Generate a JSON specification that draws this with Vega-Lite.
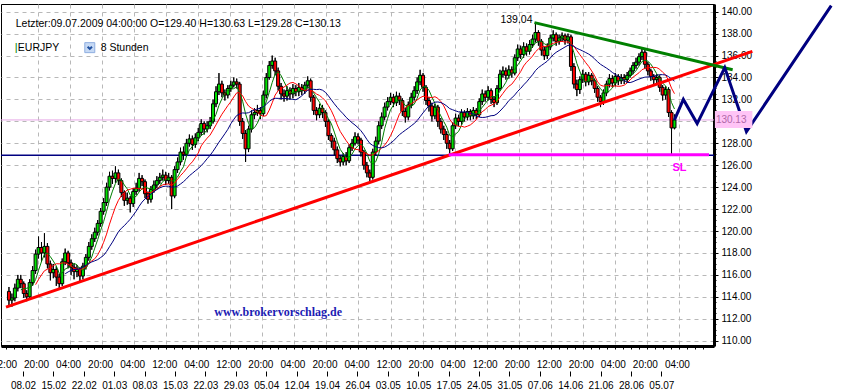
{
 "$schema": "https://vega.github.io/schema/vega-lite/v6.json",
 "width": 713,
 "height": 342,
 "autosize": "none",
 "padding": {"left": 1, "top": 4, "right": 135, "bottom": 43},
 "background": "white",
 "config": {"view": {"stroke": "#000", "strokeWidth": 1}, "font": "Liberation Sans"},
 "datasets": {
  "candles": [
   {"i":0,"o":114.5,"h":114.9,"l":113.2,"c":113.7},{"i":1,"o":113.7,"h":114.3,"l":113.1,"c":113.9},{"i":2,"o":113.9,"h":115.2,"l":113.6,"c":114.8},{"i":3,"o":114.8,"h":116.0,"l":114.5,"c":115.6},{"i":4,"o":115.6,"h":116.0,"l":114.8,"c":115.2},{"i":5,"o":115.2,"h":115.4,"l":113.9,"c":114.3},{"i":6,"o":114.3,"h":114.6,"l":113.6,"c":114.0},{"i":7,"o":114.0,"h":115.6,"l":113.8,"c":115.3},{"i":8,"o":115.3,"h":116.8,"l":115.0,"c":116.4},{"i":9,"o":116.4,"h":118.3,"l":116.1,"c":117.9},
   {"i":10,"o":117.9,"h":119.5,"l":117.5,"c":118.5},{"i":11,"o":118.5,"h":119.0,"l":117.2,"c":118.0},{"i":12,"o":118.0,"h":119.8,"l":117.6,"c":118.6},{"i":13,"o":118.6,"h":118.9,"l":116.6,"c":117.0},{"i":14,"o":117.0,"h":117.3,"l":115.5,"c":116.2},{"i":15,"o":116.2,"h":117.0,"l":115.7,"c":116.5},{"i":16,"o":116.5,"h":116.8,"l":115.0,"c":115.8},{"i":17,"o":115.8,"h":116.1,"l":114.7,"c":115.2},{"i":18,"o":115.2,"h":117.5,"l":115.0,"c":117.2},{"i":19,"o":117.2,"h":118.4,"l":116.9,"c":118.0},
   {"i":20,"o":118.0,"h":118.2,"l":116.6,"c":117.1},{"i":21,"o":117.1,"h":117.4,"l":116.0,"c":116.7},{"i":22,"o":116.7,"h":117.0,"l":115.6,"c":116.3},{"i":23,"o":116.3,"h":116.9,"l":115.8,"c":116.5},{"i":24,"o":116.5,"h":116.7,"l":115.3,"c":115.9},{"i":25,"o":115.9,"h":117.1,"l":115.6,"c":116.8},{"i":26,"o":116.8,"h":117.9,"l":116.5,"c":117.6},{"i":27,"o":117.6,"h":119.0,"l":117.3,"c":118.6},{"i":28,"o":118.6,"h":119.7,"l":118.3,"c":119.3},{"i":29,"o":119.3,"h":120.3,"l":119.0,"c":119.9},
   {"i":30,"o":119.9,"h":121.0,"l":119.6,"c":120.7},{"i":31,"o":120.7,"h":122.1,"l":120.4,"c":121.8},{"i":32,"o":121.8,"h":123.0,"l":121.5,"c":122.6},{"i":33,"o":122.6,"h":124.4,"l":122.3,"c":124.0},{"i":34,"o":124.0,"h":125.4,"l":123.7,"c":125.0},{"i":35,"o":125.0,"h":125.5,"l":124.3,"c":124.8},{"i":36,"o":124.8,"h":125.9,"l":124.4,"c":125.3},{"i":37,"o":125.3,"h":125.6,"l":124.2,"c":124.6},{"i":38,"o":124.6,"h":124.8,"l":123.1,"c":123.5},{"i":39,"o":123.5,"h":123.7,"l":122.3,"c":122.8},
   {"i":40,"o":122.8,"h":123.5,"l":122.4,"c":123.0},{"i":41,"o":123.0,"h":123.2,"l":121.7,"c":122.5},{"i":42,"o":122.5,"h":123.9,"l":122.2,"c":123.6},{"i":43,"o":123.6,"h":124.4,"l":123.3,"c":123.9},{"i":44,"o":123.9,"h":125.3,"l":123.6,"c":124.8},{"i":45,"o":124.8,"h":125.1,"l":124.1,"c":124.5},{"i":46,"o":124.5,"h":124.7,"l":123.0,"c":123.4},{"i":47,"o":123.4,"h":123.6,"l":122.5,"c":122.9},{"i":48,"o":122.9,"h":124.1,"l":122.6,"c":123.8},{"i":49,"o":123.8,"h":124.6,"l":123.5,"c":124.2},
   {"i":50,"o":124.2,"h":125.0,"l":123.9,"c":124.6},{"i":51,"o":124.6,"h":125.3,"l":124.3,"c":124.9},{"i":52,"o":124.9,"h":125.6,"l":124.6,"c":125.1},{"i":53,"o":125.1,"h":125.4,"l":124.2,"c":124.6},{"i":54,"o":124.6,"h":125.3,"l":124.3,"c":124.9},{"i":55,"o":124.9,"h":125.1,"l":122.0,"c":123.2},{"i":56,"o":123.2,"h":125.9,"l":123.0,"c":125.6},{"i":57,"o":125.6,"h":126.7,"l":125.3,"c":126.3},{"i":58,"o":126.3,"h":127.6,"l":126.0,"c":127.2},{"i":59,"o":127.2,"h":127.7,"l":126.5,"c":127.0},
   {"i":60,"o":127.0,"h":128.4,"l":126.8,"c":128.0},{"i":61,"o":128.0,"h":128.8,"l":127.7,"c":128.4},{"i":62,"o":128.4,"h":128.7,"l":127.4,"c":127.9},{"i":63,"o":127.9,"h":128.9,"l":127.6,"c":128.5},{"i":64,"o":128.5,"h":129.4,"l":128.2,"c":129.0},{"i":65,"o":129.0,"h":130.2,"l":128.7,"c":129.8},{"i":66,"o":129.8,"h":130.0,"l":128.8,"c":129.3},{"i":67,"o":129.3,"h":130.0,"l":129.0,"c":129.6},{"i":68,"o":129.6,"h":130.4,"l":129.3,"c":130.0},{"i":69,"o":130.0,"h":132.0,"l":129.8,"c":131.6},
   {"i":70,"o":131.6,"h":133.2,"l":131.3,"c":132.7},{"i":71,"o":132.7,"h":134.4,"l":132.4,"c":133.4},{"i":72,"o":133.4,"h":133.7,"l":132.2,"c":132.6},{"i":73,"o":132.6,"h":132.9,"l":131.9,"c":132.4},{"i":74,"o":132.4,"h":133.3,"l":132.1,"c":133.0},{"i":75,"o":133.0,"h":133.7,"l":132.7,"c":133.3},{"i":76,"o":133.3,"h":134.0,"l":133.1,"c":133.6},{"i":77,"o":133.6,"h":133.9,"l":133.0,"c":133.4},{"i":78,"o":133.4,"h":133.6,"l":129.6,"c":130.0},{"i":79,"o":130.0,"h":130.3,"l":128.4,"c":128.9},
   {"i":80,"o":128.9,"h":129.2,"l":126.3,"c":127.5},{"i":81,"o":127.5,"h":129.6,"l":127.2,"c":129.3},{"i":82,"o":129.3,"h":131.0,"l":129.0,"c":130.6},{"i":83,"o":130.6,"h":131.2,"l":130.2,"c":130.8},{"i":84,"o":130.8,"h":131.5,"l":130.5,"c":131.0},{"i":85,"o":131.0,"h":131.3,"l":130.2,"c":130.7},{"i":86,"o":130.7,"h":132.8,"l":130.5,"c":132.4},{"i":87,"o":132.4,"h":134.4,"l":132.1,"c":134.0},{"i":88,"o":134.0,"h":135.5,"l":133.8,"c":135.1},{"i":89,"o":135.1,"h":136.0,"l":134.8,"c":135.5},
   {"i":90,"o":135.5,"h":135.8,"l":134.2,"c":134.6},{"i":91,"o":134.6,"h":134.9,"l":132.8,"c":133.2},{"i":92,"o":133.2,"h":133.5,"l":132.0,"c":132.5},{"i":93,"o":132.5,"h":132.9,"l":131.8,"c":132.3},{"i":94,"o":132.3,"h":133.2,"l":131.9,"c":132.8},{"i":95,"o":132.8,"h":133.1,"l":132.0,"c":132.5},{"i":96,"o":132.5,"h":133.4,"l":132.1,"c":133.0},{"i":97,"o":133.0,"h":133.3,"l":132.3,"c":132.7},{"i":98,"o":132.7,"h":133.5,"l":132.3,"c":133.1},{"i":99,"o":133.1,"h":133.4,"l":132.4,"c":132.8},
   {"i":100,"o":132.8,"h":133.6,"l":132.5,"c":133.3},{"i":101,"o":133.3,"h":134.1,"l":133.0,"c":133.7},{"i":102,"o":133.7,"h":133.9,"l":131.8,"c":132.2},{"i":103,"o":132.2,"h":132.4,"l":130.6,"c":131.0},{"i":104,"o":131.0,"h":131.3,"l":130.1,"c":130.6},{"i":105,"o":130.6,"h":131.6,"l":130.3,"c":131.2},{"i":106,"o":131.2,"h":131.5,"l":130.3,"c":130.8},{"i":107,"o":130.8,"h":131.0,"l":129.5,"c":130.0},{"i":108,"o":130.0,"h":130.2,"l":128.3,"c":128.7},{"i":109,"o":128.7,"h":128.9,"l":127.6,"c":128.2},
   {"i":110,"o":128.2,"h":128.5,"l":126.9,"c":127.4},{"i":111,"o":127.4,"h":127.7,"l":126.2,"c":126.6},{"i":112,"o":126.6,"h":126.9,"l":125.9,"c":126.3},{"i":113,"o":126.3,"h":127.1,"l":126.0,"c":126.8},{"i":114,"o":126.8,"h":127.2,"l":126.0,"c":126.4},{"i":115,"o":126.4,"h":127.9,"l":126.2,"c":127.6},{"i":116,"o":127.6,"h":128.4,"l":127.3,"c":128.0},{"i":117,"o":128.0,"h":129.0,"l":127.8,"c":128.6},{"i":118,"o":128.6,"h":128.9,"l":127.9,"c":128.3},{"i":119,"o":128.3,"h":128.5,"l":126.8,"c":127.2},
   {"i":120,"o":127.2,"h":127.4,"l":125.6,"c":126.0},{"i":121,"o":126.0,"h":126.3,"l":124.9,"c":125.3},{"i":122,"o":125.3,"h":125.6,"l":124.4,"c":124.9},{"i":123,"o":124.9,"h":127.5,"l":124.7,"c":127.2},{"i":124,"o":127.2,"h":128.6,"l":126.9,"c":128.2},{"i":125,"o":128.2,"h":130.0,"l":127.9,"c":129.6},{"i":126,"o":129.6,"h":130.8,"l":129.3,"c":130.4},{"i":127,"o":130.4,"h":131.7,"l":130.1,"c":131.3},{"i":128,"o":131.3,"h":132.2,"l":131.0,"c":131.8},{"i":129,"o":131.8,"h":132.6,"l":131.5,"c":132.2},
   {"i":130,"o":132.2,"h":132.5,"l":131.3,"c":131.7},{"i":131,"o":131.7,"h":132.7,"l":131.4,"c":132.3},{"i":132,"o":132.3,"h":132.6,"l":131.5,"c":131.9},{"i":133,"o":131.9,"h":132.1,"l":130.5,"c":130.9},{"i":134,"o":130.9,"h":131.2,"l":129.9,"c":130.4},{"i":135,"o":130.4,"h":131.8,"l":130.1,"c":131.5},{"i":136,"o":131.5,"h":132.6,"l":131.2,"c":132.2},{"i":137,"o":132.2,"h":133.2,"l":131.9,"c":132.8},{"i":138,"o":132.8,"h":134.0,"l":132.5,"c":133.6},{"i":139,"o":133.6,"h":134.7,"l":133.3,"c":134.2},
   {"i":140,"o":134.2,"h":134.4,"l":132.7,"c":133.1},{"i":141,"o":133.1,"h":133.3,"l":131.5,"c":131.9},{"i":142,"o":131.9,"h":132.2,"l":130.9,"c":131.4},{"i":143,"o":131.4,"h":131.7,"l":130.0,"c":130.5},{"i":144,"o":130.5,"h":131.6,"l":130.2,"c":131.3},{"i":145,"o":131.3,"h":131.5,"l":129.5,"c":130.0},{"i":146,"o":130.0,"h":130.3,"l":128.9,"c":129.3},{"i":147,"o":129.3,"h":129.6,"l":128.3,"c":128.8},{"i":148,"o":128.8,"h":129.1,"l":127.5,"c":128.0},{"i":149,"o":128.0,"h":128.3,"l":126.95,"c":127.5},
   {"i":150,"o":127.5,"h":129.9,"l":127.3,"c":129.6},{"i":151,"o":129.6,"h":130.7,"l":129.3,"c":130.3},{"i":152,"o":130.3,"h":130.6,"l":129.6,"c":130.0},{"i":153,"o":130.0,"h":131.1,"l":129.7,"c":130.8},{"i":154,"o":130.8,"h":131.0,"l":130.0,"c":130.4},{"i":155,"o":130.4,"h":131.2,"l":130.1,"c":130.9},{"i":156,"o":130.9,"h":131.1,"l":130.1,"c":130.5},{"i":157,"o":130.5,"h":131.3,"l":130.2,"c":131.0},{"i":158,"o":131.0,"h":131.2,"l":130.2,"c":130.6},{"i":159,"o":130.6,"h":132.1,"l":130.4,"c":131.8},
   {"i":160,"o":131.8,"h":132.9,"l":131.5,"c":132.5},{"i":161,"o":132.5,"h":132.8,"l":131.8,"c":132.2},{"i":162,"o":132.2,"h":133.2,"l":131.9,"c":132.8},{"i":163,"o":132.8,"h":133.0,"l":131.6,"c":132.0},{"i":164,"o":132.0,"h":132.3,"l":131.3,"c":131.7},{"i":165,"o":131.7,"h":133.3,"l":131.5,"c":133.0},{"i":166,"o":133.0,"h":134.7,"l":132.8,"c":134.3},{"i":167,"o":134.3,"h":135.0,"l":134.0,"c":134.6},{"i":168,"o":134.6,"h":134.9,"l":133.8,"c":134.2},{"i":169,"o":134.2,"h":135.1,"l":133.9,"c":134.7},
   {"i":170,"o":134.7,"h":135.0,"l":134.0,"c":134.4},{"i":171,"o":134.4,"h":136.1,"l":134.2,"c":135.8},{"i":172,"o":135.8,"h":137.0,"l":135.5,"c":136.6},{"i":173,"o":136.6,"h":136.9,"l":135.7,"c":136.1},{"i":174,"o":136.1,"h":137.2,"l":135.8,"c":136.8},{"i":175,"o":136.8,"h":137.1,"l":136.0,"c":136.4},{"i":176,"o":136.4,"h":137.4,"l":136.1,"c":137.0},{"i":177,"o":137.0,"h":137.9,"l":136.7,"c":137.5},{"i":178,"o":137.5,"h":139.04,"l":137.2,"c":138.1},{"i":179,"o":138.1,"h":138.3,"l":136.9,"c":137.3},
   {"i":180,"o":137.3,"h":137.5,"l":136.0,"c":136.5},{"i":181,"o":136.5,"h":136.8,"l":135.6,"c":136.0},{"i":182,"o":136.0,"h":137.1,"l":135.7,"c":136.8},{"i":183,"o":136.8,"h":137.9,"l":136.5,"c":137.6},{"i":184,"o":137.6,"h":138.3,"l":137.3,"c":137.9},{"i":185,"o":137.9,"h":138.1,"l":136.9,"c":137.3},{"i":186,"o":137.3,"h":137.9,"l":137.0,"c":137.6},{"i":187,"o":137.6,"h":138.1,"l":137.3,"c":137.8},{"i":188,"o":137.8,"h":138.0,"l":137.0,"c":137.4},{"i":189,"o":137.4,"h":138.0,"l":137.1,"c":137.7},
   {"i":190,"o":137.7,"h":137.9,"l":134.6,"c":135.0},{"i":191,"o":135.0,"h":135.3,"l":133.0,"c":133.4},{"i":192,"o":133.4,"h":133.8,"l":132.3,"c":132.9},{"i":193,"o":132.9,"h":134.1,"l":132.5,"c":133.8},{"i":194,"o":133.8,"h":134.7,"l":133.5,"c":134.3},{"i":195,"o":134.3,"h":134.5,"l":133.2,"c":133.6},{"i":196,"o":133.6,"h":134.5,"l":133.3,"c":134.2},{"i":197,"o":134.2,"h":134.4,"l":133.3,"c":133.7},{"i":198,"o":133.7,"h":133.9,"l":132.6,"c":133.0},{"i":199,"o":133.0,"h":133.2,"l":131.8,"c":132.2},
   {"i":200,"o":132.2,"h":132.4,"l":131.3,"c":131.8},{"i":201,"o":131.8,"h":132.9,"l":131.5,"c":132.6},{"i":202,"o":132.6,"h":133.7,"l":132.3,"c":133.4},{"i":203,"o":133.4,"h":134.3,"l":133.1,"c":133.9},{"i":204,"o":133.9,"h":134.2,"l":133.1,"c":133.5},{"i":205,"o":133.5,"h":134.4,"l":133.2,"c":134.1},{"i":206,"o":134.1,"h":134.3,"l":133.3,"c":133.7},{"i":207,"o":133.7,"h":134.3,"l":133.4,"c":134.0},{"i":208,"o":134.0,"h":134.3,"l":133.4,"c":133.8},{"i":209,"o":133.8,"h":134.5,"l":133.5,"c":134.2},
   {"i":210,"o":134.2,"h":134.9,"l":134.0,"c":134.6},{"i":211,"o":134.6,"h":135.4,"l":134.3,"c":135.1},{"i":212,"o":135.1,"h":135.8,"l":134.8,"c":135.4},{"i":213,"o":135.4,"h":136.2,"l":135.1,"c":135.9},{"i":214,"o":135.9,"h":136.6,"l":135.6,"c":136.3},{"i":215,"o":136.3,"h":136.5,"l":134.8,"c":135.2},{"i":216,"o":135.2,"h":135.4,"l":134.2,"c":134.6},{"i":217,"o":134.6,"h":134.8,"l":133.7,"c":134.1},{"i":218,"o":134.1,"h":134.3,"l":133.4,"c":133.8},{"i":219,"o":133.8,"h":134.3,"l":133.4,"c":134.0},
   {"i":220,"o":134.0,"h":134.2,"l":132.7,"c":133.1},{"i":221,"o":133.1,"h":133.3,"l":131.9,"c":132.4},{"i":222,"o":132.4,"h":133.2,"l":132.0,"c":132.9},{"i":223,"o":132.9,"h":133.1,"l":130.4,"c":130.8},{"i":224,"o":130.8,"h":131.0,"l":126.95,"c":129.4},{"i":225,"o":129.40,"h":130.63,"l":129.28,"c":130.13}
  ],
  "levels": [
   {"name": "price", "v": 130.13},
   {"name": "support", "v": 126.92}
  ],
  "lines": [
   {"g": "red", "i": -1, "v": 113.06}, {"g": "red", "i": 251.33, "v": 136.38},
   {"g": "green", "i": 177.67, "v": 139.0}, {"g": "green", "i": 244.67, "v": 134.71},
   {"g": "sl", "i": 148.67, "v": 126.95}, {"g": "sl", "i": 236.67, "v": 126.95},
   {"g": "proj", "i": 225, "v": 130.13}, {"g": "proj", "i": 228, "v": 132.0}, {"g": "proj", "i": 232.67, "v": 129.8},
   {"g": "proj", "i": 242, "v": 134.9}, {"g": "proj", "i": 249.33, "v": 129.06}, {"g": "proj", "i": 278, "v": 140.55}
  ],
  "box": [{"i": 238.67, "i2": 251.33, "v": 130.95, "v2": 129.4}],
  "notes": [
   {"k": "hdr", "i": 2.3, "v": 138.91, "t": "Letzter:09.07.2009 04:00:00 O=129.40 H=130.63 L=129.28 C=130.13"},
   {"k": "bar", "i": 2, "v": 136.72, "t": "|"},
   {"k": "sym", "i": 3, "v": 136.72, "t": "EURJPY"},
   {"k": "per", "i": 31, "v": 136.72, "t": "8 Stunden"},
   {"k": "hi", "i": 177, "v": 139.27, "t": "139.04"},
   {"k": "sl", "i": 226.67, "v": 125.75, "t": "SL"},
   {"k": "web", "i": 91, "v": 112.62, "t": "www.brokervorschlag.de"},
   {"k": "box", "i": 239, "v": 130.13, "t": "130.13"}
  ],
  "icon": [{"i": 27.33, "v": 136.72}],
  "dates": [
   {"i": -3.8, "d": "01.02"}, {"i": 219.133, "d": "05.07"}
  ]
 },
 "resolve": {"scale": {"x": "independent"}, "axis": {"x": "independent"}},
 "layer": [
  {
   "resolve": {"scale": {"color": "independent", "strokeWidth": "independent"}},
   "layer": [
    {
     "data": {"name": "candles"},
     "mark": {"type": "rule", "color": "#000", "strokeWidth": 1},
     "encoding": {
      "x": {"field": "i", "type": "quantitative", "title": null, "scale": {"domain": [-1, 236.67], "nice": false, "zero": false},
       "axis": {
        "title": null,
        "tickCount": 200,
        "values": [-1,1.708,4.417,7.125,9.833,12.542,15.25,17.958,20.667,23.375,26.083,28.792,31.5,34.208,36.917,39.625,42.333,45.042,47.75,50.458,53.167,55.875,58.583,61.292,64,66.708,69.417,72.125,74.833,77.542,80.25,82.958,85.667,88.375,91.083,93.792,96.5,99.208,101.917,104.625,107.333,110.042,112.75,115.458,118.167,120.875,123.583,126.292,129,131.708,134.417,137.125,139.833,142.542,145.25,147.958,150.667,153.375,156.083,158.792,161.5,164.208,166.917,169.625,172.333,175.042,177.75,180.458,183.167,185.875,188.583,191.292,194,196.708,199.417,202.125,204.833,207.542,210.25,212.958,215.667,218.375,221.083,223.792,226.5,229.208,231.917,234.625],
        "labelExpr": "round((datum.value+1)*3/8.125)%4==0 ? ['12:00','20:00','04:00','20:00','04:00','12:00','04:00','12:00','20:00','04:00','20:00','04:00','12:00','20:00','04:00','12:00','20:00','12:00','20:00','04:00','20:00','04:00'][round((datum.value+1)*3/32.5)] : ''",
        "grid": true,
        "gridColor": "#b8b8b8",
        "gridDash": [4, 4],
        "gridOpacity": {"condition": {"test": "round((datum.value+1)*3/8.125)%4==0 && datum.value>0", "value": 1}, "value": 0},
        "domainColor": "#000",
        "domainWidth": 3,
        "tickColor": "#000",
        "tickSize": 3,
        "labelFont": "Liberation Sans",
        "labelFontSize": 10,
        "labelColor": "#000",
        "labelPadding": 10,
        "labelOffset": -2,
        "labelOverlap": false,
        "labelFlush": false,
        "labelBound": false
       }
      },
      "y": {"field": "l", "type": "quantitative", "title": null, "scale": {"domain": [109.52, 140.7], "nice": false, "zero": false},
       "axis": {
        "title": null,
        "orient": "right",
        "tickCount": 200,
        "values": [110,110.5,111,111.5,112,112.5,113,113.5,114,114.5,115,115.5,116,116.5,117,117.5,118,118.5,119,119.5,120,120.5,121,121.5,122,122.5,123,123.5,124,124.5,125,125.5,126,126.5,127,127.5,128,128.5,129,129.5,130,130.5,131,131.5,132,132.5,133,133.5,134,134.5,135,135.5,136,136.5,137,137.5,138,138.5,139,139.5,140],
        "labelExpr": "datum.value % 2 == 0 && datum.value != 130 ? format(datum.value, '.2f') : ''",
        "grid": true,
        "gridColor": "#b8b8b8",
        "gridDash": [4, 4],
        "gridOpacity": {"condition": {"test": "datum.value % 2 == 0", "value": 1}, "value": 0},
        "tickSize": {"condition": {"test": "datum.value % 2 == 0", "value": 4}, "value": 2},
        "tickColor": "#000",
        "domainColor": "#000",
        "domainWidth": 3,
        "labelFont": "Liberation Sans",
        "labelFontSize": 10,
        "labelColor": "#000",
        "labelPadding": 3,
        "labelOverlap": false,
        "labelBound": false
       }
      },
      "y2": {"field": "h"}
     }
    },
    {
     "data": {"name": "levels"},
     "transform": [{"filter": "datum.name == 'price'"}],
     "mark": {"type": "rule", "color": "#e6a6e6", "strokeWidth": 1},
     "encoding": {
      "y": {"field": "v", "type": "quantitative", "title": null, "scale": {"domain": [109.52, 140.7], "nice": false, "zero": false}}
     }
    },
    {
     "data": {"name": "levels"},
     "transform": [{"filter": "datum.name == 'support'"}],
     "mark": {"type": "rule", "color": "#000080", "strokeWidth": 1.5},
     "encoding": {
      "y": {"field": "v", "type": "quantitative", "title": null, "scale": {"domain": [109.52, 140.7], "nice": false, "zero": false}}
     }
    },
    {
     "data": {"name": "candles"},
     "mark": {"type": "rule", "color": "#000", "strokeWidth": 1},
     "encoding": {
      "x": {"field": "i", "type": "quantitative", "title": null, "scale": {"domain": [-1, 236.67], "nice": false, "zero": false}},
      "y": {"field": "l", "type": "quantitative", "title": null, "scale": {"domain": [109.52, 140.7], "nice": false, "zero": false}},
      "y2": {"field": "h"}
     }
    },
    {
     "data": {"name": "candles"},
     "mark": {"type": "bar", "size": 3, "stroke": "#000", "strokeWidth": 1},
     "encoding": {
      "x": {"field": "i", "type": "quantitative", "title": null, "scale": {"domain": [-1, 236.67], "nice": false, "zero": false}},
      "y": {"field": "o", "type": "quantitative", "title": null, "scale": {"domain": [109.52, 140.7], "nice": false, "zero": false}},
      "y2": {"field": "c"},
      "fill": {"condition": {"test": "datum.c >= datum.o", "value": "#00e000"}, "value": "#ff0000"}
     }
    },
    {
     "data": {"name": "candles"},
     "transform": [
      {"window": [{"op": "mean", "field": "c", "as": "ma5"}], "frame": [-4, 0], "sort": [{"field": "i"}]},
      {"window": [{"op": "mean", "field": "c", "as": "ma10"}], "frame": [-9, 0], "sort": [{"field": "i"}]},
      {"window": [{"op": "mean", "field": "c", "as": "ma20"}], "frame": [-19, 0], "sort": [{"field": "i"}]},
      {"fold": ["ma5", "ma10", "ma20"], "as": ["k", "m"]},
      {"filter": "(datum.k=='ma5'&&datum.i>=4)||(datum.k=='ma10'&&datum.i>=9)||(datum.k=='ma20'&&datum.i>=19)"}
     ],
     "mark": {"type": "line", "strokeWidth": 1},
     "encoding": {
      "x": {"field": "i", "type": "quantitative", "title": null, "scale": {"domain": [-1, 236.67], "nice": false, "zero": false}},
      "y": {"field": "m", "type": "quantitative", "title": null, "scale": {"domain": [109.52, 140.7], "nice": false, "zero": false}},
      "color": {"field": "k", "type": "nominal", "scale": {"domain": ["ma5", "ma10", "ma20"], "range": ["#008000", "#ff0000", "#000080"]}, "legend": null}
     }
    },
    {
     "data": {"name": "lines"},
     "mark": {"type": "line"},
     "encoding": {
      "x": {"field": "i", "type": "quantitative", "title": null, "scale": {"domain": [-1, 236.67], "nice": false, "zero": false}},
      "y": {"field": "v", "type": "quantitative", "title": null, "scale": {"domain": [109.52, 140.7], "nice": false, "zero": false}},
      "color": {"field": "g", "type": "nominal", "scale": {"domain": ["red", "green", "sl", "proj"], "range": ["#ff0000", "#008000", "#ff00ff", "#000080"]}, "legend": null},
      "strokeWidth": {"field": "g", "type": "nominal", "scale": {"domain": ["red", "green", "sl", "proj"], "range": [3, 3, 3, 2]}, "legend": null}
     }
    },
    {
     "data": {"name": "box"},
     "mark": {"type": "rect", "fill": "#ffc4f6"},
     "encoding": {
      "x": {"field": "i", "type": "quantitative", "title": null, "scale": {"domain": [-1, 236.67], "nice": false, "zero": false}},
      "x2": {"field": "i2"},
      "y": {"field": "v", "type": "quantitative", "title": null, "scale": {"domain": [109.52, 140.7], "nice": false, "zero": false}},
      "y2": {"field": "v2"}
     }
    },
    {
     "data": {"name": "icon"},
     "mark": {"type": "point", "shape": "square", "size": 100, "filled": true, "fill": "#c6d9f4", "stroke": "#8eaee0", "strokeWidth": 1, "opacity": 1},
     "encoding": {
      "x": {"field": "i", "type": "quantitative", "title": null, "scale": {"domain": [-1, 236.67], "nice": false, "zero": false}},
      "y": {"field": "v", "type": "quantitative", "title": null, "scale": {"domain": [109.52, 140.7], "nice": false, "zero": false}}
     }
    },
    {
     "data": {"name": "icon"},
     "mark": {"type": "point", "shape": "M-0.8,-0.35L0,0.45L0.8,-0.35", "size": 30, "filled": false, "stroke": "#1f4f9f", "strokeWidth": 2, "opacity": 1},
     "encoding": {
      "x": {"field": "i", "type": "quantitative", "title": null, "scale": {"domain": [-1, 236.67], "nice": false, "zero": false}},
      "y": {"field": "v", "type": "quantitative", "title": null, "scale": {"domain": [109.52, 140.7], "nice": false, "zero": false}}
     }
    },
    {
     "data": {"name": "notes"},
     "transform": [{"filter": "indexof(['hdr','sym','per'], datum.k) >= 0"}],
     "mark": {"type": "text", "align": "left", "baseline": "middle", "font": "Liberation Sans", "fontSize": 10.5, "color": "#000"},
     "encoding": {
      "x": {"field": "i", "type": "quantitative", "title": null, "scale": {"domain": [-1, 236.67], "nice": false, "zero": false}},
      "y": {"field": "v", "type": "quantitative", "title": null, "scale": {"domain": [109.52, 140.7], "nice": false, "zero": false}},
      "text": {"field": "t"}
     }
    },
    {
     "data": {"name": "notes"},
     "transform": [{"filter": "datum.k == 'bar'"}],
     "mark": {"type": "text", "align": "left", "baseline": "middle", "font": "Liberation Sans", "fontSize": 11, "color": "#008000"},
     "encoding": {
      "x": {"field": "i", "type": "quantitative", "title": null, "scale": {"domain": [-1, 236.67], "nice": false, "zero": false}},
      "y": {"field": "v", "type": "quantitative", "title": null, "scale": {"domain": [109.52, 140.7], "nice": false, "zero": false}},
      "text": {"field": "t"}
     }
    },
    {
     "data": {"name": "notes"},
     "transform": [{"filter": "datum.k == 'hi'"}],
     "mark": {"type": "text", "align": "right", "baseline": "middle", "font": "Liberation Sans", "fontSize": 10.5, "color": "#000"},
     "encoding": {
      "x": {"field": "i", "type": "quantitative", "title": null, "scale": {"domain": [-1, 236.67], "nice": false, "zero": false}},
      "y": {"field": "v", "type": "quantitative", "title": null, "scale": {"domain": [109.52, 140.7], "nice": false, "zero": false}},
      "text": {"field": "t"}
     }
    },
    {
     "data": {"name": "notes"},
     "transform": [{"filter": "datum.k == 'sl'"}],
     "mark": {"type": "text", "align": "center", "baseline": "middle", "font": "Liberation Sans", "fontSize": 11, "fontWeight": "bold", "color": "#ff00ff"},
     "encoding": {
      "x": {"field": "i", "type": "quantitative", "title": null, "scale": {"domain": [-1, 236.67], "nice": false, "zero": false}},
      "y": {"field": "v", "type": "quantitative", "title": null, "scale": {"domain": [109.52, 140.7], "nice": false, "zero": false}},
      "text": {"field": "t"}
     }
    },
    {
     "data": {"name": "notes"},
     "transform": [{"filter": "datum.k == 'web'"}],
     "mark": {"type": "text", "align": "center", "baseline": "middle", "font": "Liberation Serif", "fontSize": 12, "fontWeight": "bold", "color": "#1c1cb4"},
     "encoding": {
      "x": {"field": "i", "type": "quantitative", "title": null, "scale": {"domain": [-1, 236.67], "nice": false, "zero": false}},
      "y": {"field": "v", "type": "quantitative", "title": null, "scale": {"domain": [109.52, 140.7], "nice": false, "zero": false}},
      "text": {"field": "t"}
     }
    },
    {
     "data": {"name": "notes"},
     "transform": [{"filter": "datum.k == 'box'"}],
     "mark": {"type": "text", "align": "left", "baseline": "middle", "font": "Liberation Sans", "fontSize": 10, "color": "#b068a8"},
     "encoding": {
      "x": {"field": "i", "type": "quantitative", "title": null, "scale": {"domain": [-1, 236.67], "nice": false, "zero": false}},
      "y": {"field": "v", "type": "quantitative", "title": null, "scale": {"domain": [109.52, 140.7], "nice": false, "zero": false}},
      "text": {"field": "t"}
     }
    }
   ]
  },
  {
   "data": {"name": "dates"},
   "mark": {"type": "point", "opacity": 0},
   "encoding": {
    "x": {"field": "i", "type": "quantitative", "title": null, "scale": {"domain": [-1, 236.67], "nice": false, "zero": false},
     "axis": {
      "title": null,
      "orient": "bottom",
      "offset": 25,
      "tickCount": 200,
      "values": [-3.8,6.333,16.467,26.6,36.733,46.867,57.0,67.133,77.267,87.4,97.533,107.667,117.8,127.933,138.067,148.2,158.333,168.467,178.6,188.733,198.867,209.0,219.133],
      "labelExpr": "['01.02','08.02','15.02','22.02','01.03','08.03','15.03','22.03','29.03','05.04','12.04','19.04','26.04','03.05','10.05','17.05','24.05','31.05','07.06','14.06','21.06','28.06','05.07'][round((datum.value*3+11.4)/30.4)]",
      "domain": false,
      "grid": false,
      "tickColor": "#000",
      "tickSize": 5,
      "labelFont": "Liberation Sans",
      "labelFontSize": 10,
      "labelColor": "#000",
      "labelPadding": 4,
      "labelOverlap": false,
      "labelFlush": false,
      "labelBound": false
     }
    }
   }
  }
 ]
}
